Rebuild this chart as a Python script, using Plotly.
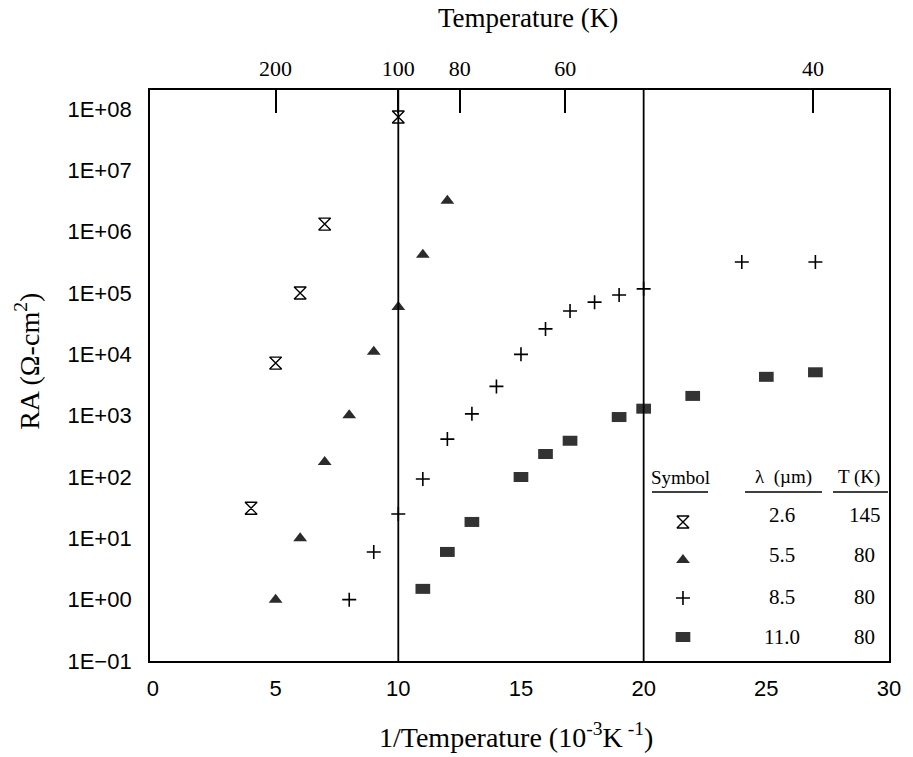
import plotly.graph_objects as go

# ---- data ----
x_26 = [4, 5, 6, 7, 10]
ra_26 = [31, 7.2e3, 1.0e5, 1.33e6, 7.4e7]

x_55 = [5, 6, 7, 8, 9, 10, 11, 12]
ra_55 = [1.0, 10, 175, 1020, 1.1e4, 5.9e4, 4.2e5, 3.2e6]

x_85 = [8, 9, 10, 11, 12, 13, 14, 15, 16, 17, 18, 19, 20, 24, 27]
ra_85 = [1.0, 6.0, 25, 93, 415, 1070, 3000, 1.0e4, 2.6e4, 5.1e4, 7.1e4, 9.3e4, 1.17e5, 3.2e5, 3.2e5]

x_110 = [11, 12, 13, 15, 16, 17, 19, 20, 22, 25, 27]
ra_110 = [1.5, 6.0, 18.5, 100, 237, 390, 950, 1300, 2100, 4300, 5100]

y_exponents = [-1, 0, 1, 2, 3, 4, 5, 6, 7, 8]
y_ticktext = ["1E\u221201", "1E+00", "1E+01", "1E+02", "1E+03", "1E+04", "1E+05", "1E+06", "1E+07", "1E+08"]
x_ticks = [0, 5, 10, 15, 20, 25, 30]

top_tick_labels = ["200", "100", "80", "60", "40"]
top_tick_pos = [5, 10, 12.5, 16.8, 26.9]

table_wavelength = ["2.6", "5.5", "8.5", "11.0"]
table_temp = ["145", "80", "80", "80"]

# ---- styles ----
SERIF = "Liberation Serif"
SANS = "Liberation Sans"
styles = [
    dict(symbol="hourglass-open", size=12, color="black", line=dict(color="black", width=1.4)),
    dict(symbol="triangle-up", size=12, color="#2b2b2b", line=dict(width=0)),
    dict(symbol="cross-thin-open", size=10, color="black", line=dict(color="black", width=1.6)),
    dict(symbol="line-ew", size=10.5, color="#333333", line=dict(color="#333333", width=10)),
]
series = [(x_26, ra_26, "2.6 \u00b5m"), (x_55, ra_55, "5.5 \u00b5m"),
          (x_85, ra_85, "8.5 \u00b5m"), (x_110, ra_110, "11.0 \u00b5m")]

fig = go.Figure()
for (xs, ys, name), st in zip(series, styles):
    fig.add_trace(go.Scatter(x=xs, y=ys, mode="markers", name=name, marker=st,
                             showlegend=False, xaxis="x", yaxis="y"))

# legend table keys (on an overlay axis spanning the plot, 0..1)
key_y = [0.2434, 0.1769, 0.1103, 0.0420]
for ky, st in zip(key_y, styles):
    fig.add_trace(go.Scatter(x=[0.7212], y=[ky], mode="markers", marker=st,
                             showlegend=False, xaxis="x3", yaxis="y3", hoverinfo="skip"))

XR = [-0.12, 30.0]
fig.update_layout(
    width=913, height=757,
    margin=dict(l=150, r=24, t=90, b=96),
    paper_bgcolor="white", plot_bgcolor="white",
    xaxis=dict(range=XR, tickvals=x_ticks, ticktext=[str(v) for v in x_ticks],
               showline=True, mirror=True, linecolor="black", linewidth=1.8,
               ticks="", showgrid=False, zeroline=False,
               tickfont=dict(family=SANS, size=22, color="black"), ticklabelstandoff=7),
    xaxis2=dict(range=XR, overlaying="x", side="top", tickvals=top_tick_pos,
                ticktext=top_tick_labels, ticks="inside", ticklen=23, tickwidth=1.6,
                tickcolor="black", showline=False, showgrid=False, zeroline=False,
                tickfont=dict(family=SERIF, size=22, color="black"), ticklabelstandoff=9),
    yaxis=dict(type="log", range=[-1, 8.31], tickvals=[10.0 ** e for e in y_exponents],
               ticktext=y_ticktext, showline=True, mirror=True, linecolor="black",
               linewidth=1.8, ticks="", showgrid=False, zeroline=False,
               tickfont=dict(family=SANS, size=22, color="black"), ticklabelstandoff=12),
    xaxis3=dict(range=[0, 1], overlaying="x", visible=False),
    yaxis3=dict(range=[0, 1], overlaying="y", visible=False),
    showlegend=False,
)
# invisible trace so the top axis is drawn
fig.add_trace(go.Scatter(x=[top_tick_pos[0]], y=[1], xaxis="x2", yaxis="y",
                         mode="markers", marker=dict(opacity=0), showlegend=False, hoverinfo="skip"))

# vertical reference lines at 10 and 20
for xv in [10, 20]:
    fig.add_shape(type="line", xref="x", yref="paper", x0=xv, x1=xv, y0=0, y1=1,
                  line=dict(color="black", width=1.8))

def label(text, x, y, size, **kw):
    fig.add_annotation(text=text, xref="paper", yref="paper", x=x, y=y, showarrow=False,
                       xanchor="center", yanchor="middle",
                       font=dict(family=SERIF, size=size, color="black"), **kw)

# titles
label("Temperature (K)", 0.512, 1.126, 27)
label("1/Temperature (10<sup>-3</sup>K<sup> -1</sup>)", 0.495, -0.13, 28)
label("RA (\u03a9-cm<sup>2</sup>)", -0.165, 0.524, 28, textangle=-90)

# legend table
hdr_y = 0.3222
for txt, xc in [("Symbol", 0.7172), ("\u03bb  (\u00b5m)", 0.8566), ("T (K)", 0.9594)]:
    label(txt, xc, hdr_y, 19)
for x0, x1 in [(0.6793, 0.7551), (0.8051, 0.9093), (0.9242, 0.9986)]:
    fig.add_shape(type="line", xref="paper", yref="paper", x0=x0, x1=x1, y0=0.296, y1=0.296,
                  line=dict(color="black", width=1.5))
row_y = [0.2557, 0.1856, 0.1121, 0.0420]
for wl, tk, ry in zip(table_wavelength, table_temp, row_y):
    label(wl, 0.8552, ry, 21)
    label(tk, 0.9675, ry, 21)

fig.write_html("out.html")
